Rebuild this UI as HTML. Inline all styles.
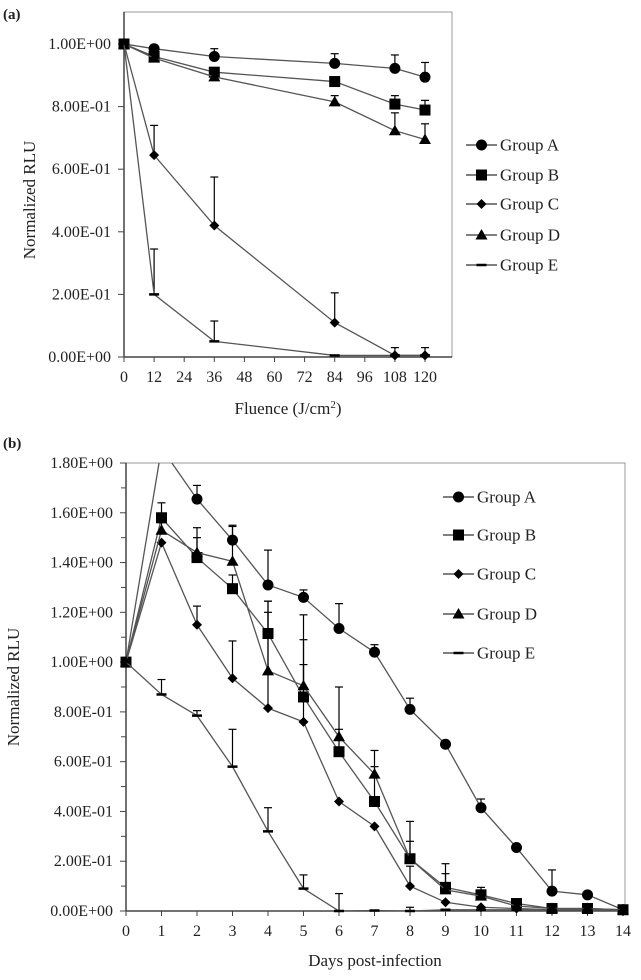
<!DOCTYPE html>
<html><head><meta charset="utf-8"><style>
body{margin:0;background:#fff;}
svg, svg text{font-family:"Liberation Serif","DejaVu Serif",serif;}
</style></head><body>
<svg id="svg" width="641" height="975" xmlns="http://www.w3.org/2000/svg" font-family="Liberation Serif, serif"></svg>
<script>
// ---- Chart (a) data ----
const aX = [0, 12, 36, 84, 108, 120];
const aXTicks = [0, 12, 24, 36, 48, 60, 72, 84, 96, 108, 120];
const aYTicks = [0, 0.2, 0.4, 0.6, 0.8, 1.0];
const aYLabels = ["0.00E+00","2.00E-01","4.00E-01","6.00E-01","8.00E-01","1.00E+00"];
const aA = [1, 0.985, 0.96, 0.938, 0.922, 0.894];
const aAerr = [null, null, 0.985, 0.969, 0.965, 0.941];
const aB = [1, 0.96, 0.91, 0.88, 0.808, 0.789];
const aBerr = [null, null, null, 0.89, 0.835, 0.82];
const aC = [1, 0.645, 0.42, 0.11, 0.005, 0.005];
const aCerr = [null, 0.74, 0.575, 0.205, 0.03, 0.03];
const aD = [1, 0.955, 0.895, 0.815, 0.723, 0.695];
const aDerr = [null, null, null, 0.835, 0.78, 0.745];
const aE = [1, 0.2, 0.05, 0.005, 0.005, 0.005];
const aEerr = [null, 0.345, 0.115, null, null, null];
// ---- Chart (b) data ----
const bX = [0,1,2,3,4,5,6,7,8,9,10,11,12,13,14];
const bYTicks = [0,0.2,0.4,0.6,0.8,1.0,1.2,1.4,1.6,1.8];
const bYLabels = ["0.00E+00","2.00E-01","4.00E-01","6.00E-01","8.00E-01","1.00E+00","1.20E+00","1.40E+00","1.60E+00","1.80E+00"];
const bA = [1,1.86,1.655,1.49,1.31,1.26,1.135,1.04,0.81,0.67,0.415,0.255,0.08,0.065,0.005];
const bAerr = [null,null,1.71,1.55,1.45,1.29,1.235,1.07,0.855,null,0.45,null,0.165,null,null];
const bB = [1,1.58,1.42,1.295,1.115,0.86,0.64,0.44,0.21,0.095,0.065,0.03,0.01,0.01,0.005];
const bBerr = [null,1.64,1.54,1.35,1.245,1.09,0.9,0.58,0.36,0.19,0.095,null,null,null,null];
const bC = [1,1.48,1.15,0.935,0.815,0.76,0.44,0.34,0.1,0.035,0.015,0.01,0.005,0.005,0];
const bCerr = [null,null,1.225,1.085,1.2,0.99,null,null,0.18,null,null,null,null,null,null];
const bD = [1,1.53,1.44,1.405,0.965,0.905,0.70,0.55,0.21,0.085,0.06,0.02,0.01,0.01,0.005];
const bDerr = [null,1.56,1.5,1.545,1.245,1.19,0.73,0.645,0.28,0.15,null,null,null,null,null];
const bE = [1,0.87,0.785,0.58,0.32,0.09,0.0,0.002,0,0.005,0.005,0.005,0.005,0.005,0];
const bEerr = [null,0.93,0.805,0.73,0.415,0.145,0.07,null,0.015,null,null,null,null,null,null];

const NS="http://www.w3.org/2000/svg";
const svg=document.getElementById('svg');
function mk(tag,attrs,parent){const e=document.createElementNS(NS,tag);for(const k in attrs)e.setAttribute(k,attrs[k]);if(tag==='text')e.setAttribute('font-family','Liberation Serif, serif');(parent||svg).appendChild(e);return e;}

function marker(g,type,x,y,s){
  let m;
  if(type==='circle') m=mk('circle',{cx:x,cy:y,r:5.5*s,fill:'#000'},g);
  else if(type==='square') m=mk('rect',{x:x-5.5*s,y:y-5.5*s,width:11*s,height:11*s,fill:'#000'},g);
  else if(type==='diamond') m=mk('polygon',{points:`${x},${y-5*s} ${x+5*s},${y} ${x},${y+5*s} ${x-5*s},${y}`,fill:'#000'},g);
  else if(type==='triangle') m=mk('polygon',{points:`${x},${y-6*s} ${x+6*s},${y+4.5*s} ${x-6*s},${y+4.5*s}`,fill:'#000'},g);
  else m=mk('line',{x1:x-5*s,y1:y,x2:x+5*s,y2:y,stroke:'#000','stroke-width':2.5},g);
  return m;
}

function chart(cfg){
  const {id,x0,x1,xmin,xmax,y0,y1,ymax,top,right,xs,series,xTicks,yTicks,yLabels,minor}=cfg;
  const g=mk('g',{});
  
  
  const sx=v=>x0+(v-xmin)/(xmax-xmin)*(x1-x0);
  const sy=v=>y0-v/ymax*(y0-y1);
  const box=mk('rect',{x:x0,y:top,width:right-x0,height:y0-top,fill:'none',stroke:'#999','stroke-width':1},g);
  
  
  mk('line',{x1:x0,y1:top,x2:x0,y2:y0,stroke:'#444','stroke-width':1.5},g);
  mk('line',{x1:x0,y1:y0,x2:right,y2:y0,stroke:'#444','stroke-width':1.5},g);
  yTicks.forEach((v,i)=>{
    mk('line',{x1:x0-6,y1:sy(v),x2:x0,y2:sy(v),stroke:'#444'},g);
    const t=mk('text',{x:x0-13,y:sy(v)+5,'text-anchor':'end','font-size':16,fill:'#222'},g);
    t.textContent=yLabels[i];
    
    
    if(minor&&i<yTicks.length-1){const mv=(v+yTicks[i+1])/2;mk('line',{x1:x0-5,y1:sy(mv),x2:x0,y2:sy(mv),stroke:'#444'},g);}
  });
  xTicks.forEach(v=>{
    mk('line',{x1:sx(v),y1:y0,x2:sx(v),y2:y0+5,stroke:'#444'},g);
    const t=mk('text',{x:sx(v),y:y0+25,'text-anchor':'middle','font-size':16,fill:'#222'},g);
    t.textContent=v;
    
    
  });
  const clipId=id+'-clip';
  const cp=mk('clipPath',{id:clipId},g);
  mk('rect',{x:x0-10,y:top,width:right-x0+20,height:y0-top+10},cp);
  series.forEach(s=>{
    const sg=mk('g',{'clip-path':`url(#${clipId})`},g);
    
    
    s.err.forEach((e,i)=>{
      if(e==null)return;
      const x=sx(xs[i]);
      mk('line',{x1:x,y1:sy(s.vals[i]),x2:x,y2:sy(e),stroke:'#000','stroke-width':1.2},sg);
      mk('line',{x1:x-4,y1:sy(e),x2:x+4,y2:sy(e),stroke:'#000','stroke-width':1.2},sg);
    });
    const pts=s.vals.map((v,i)=>`${sx(xs[i])},${sy(v)}`).join(' ');
    mk('polyline',{points:pts,fill:'none',stroke:'#555','stroke-width':1.3},sg);
    s.vals.forEach((v,i)=>{const m=marker(sg,s.type,sx(xs[i]),sy(v),cfg.ms);
      
      });
  });
  series.forEach((s,i)=>{
    const ly=cfg.legY[i];
    const lg=mk('g',{},g);
    
    
    mk('line',{x1:cfg.legX,y1:ly,x2:cfg.legX+31,y2:ly,stroke:'#333','stroke-width':1.3},lg);
    marker(lg,s.type,cfg.legX+15.5,ly,cfg.ms);
    const t=mk('text',{x:cfg.legX+34,y:ly+5.5,'font-size':17,fill:'#222'},lg);
    t.textContent=s.name;
  });
  return {sx,sy};
}

const types=['circle','square','diamond','triangle','dash'];
const names=['Group A','Group B','Group C','Group D','Group E'];
chart({id:'chart-a',x0:124,x1:425,xmin:0,xmax:120,y0:357,y1:44,ymax:1,top:12,right:452,xs:aX,
  series:[[aA,aAerr],[aB,aBerr],[aC,aCerr],[aD,aDerr],[aE,aEerr]].map((p,i)=>({name:names[i],type:types[i],vals:p[0],err:p[1]})),
  xTicks:aXTicks,yTicks:aYTicks,yLabels:aYLabels,minor:false,legX:466,legY:[145,175,204,235,265],ms:1});
chart({id:'chart-b',x0:126,x1:623,xmin:0,xmax:14,y0:911,y1:463,ymax:1.8,top:463,right:625,xs:bX,
  series:[[bA,bAerr],[bB,bBerr],[bC,bCerr],[bD,bDerr],[bE,bEerr]].map((p,i)=>({name:names[i],type:types[i],vals:p[0],err:p[1]})),
  xTicks:bX,yTicks:bYTicks,yLabels:bYLabels,minor:true,legX:443,legY:[497,535,574,614,653],ms:1});

function txt(x,y,s,attrs,name){const t=mk('text',Object.assign({x:x,y:y,fill:'#222'},attrs));t.textContent=s;
  
  return t;}
txt(3,19,'(a)',{'font-size':15,'font-weight':'bold'},'panel-label-a');
txt(3,448,'(b)',{'font-size':15,'font-weight':'bold'},'panel-label-b');
txt(0,0,'Normalized  RLU',{'font-size':17,'text-anchor':'middle',transform:'translate(35,200) rotate(-90)'},'y-axis-title-a');
txt(0,0,'Normalized  RLU',{'font-size':17,'text-anchor':'middle',transform:'translate(19,687) rotate(-90)'},'y-axis-title-b');
const ft=txt(288,414,'',{'font-size':17,'text-anchor':'middle'},'x-axis-title-a');
ft.innerHTML='Fluence  (J/cm<tspan dy="-6" font-size="11">2</tspan><tspan dy="6">)</tspan>';
txt(375,966,'Days post-infection',{'font-size':17,'text-anchor':'middle'},'x-axis-title-b');
</script>
</body></html>
